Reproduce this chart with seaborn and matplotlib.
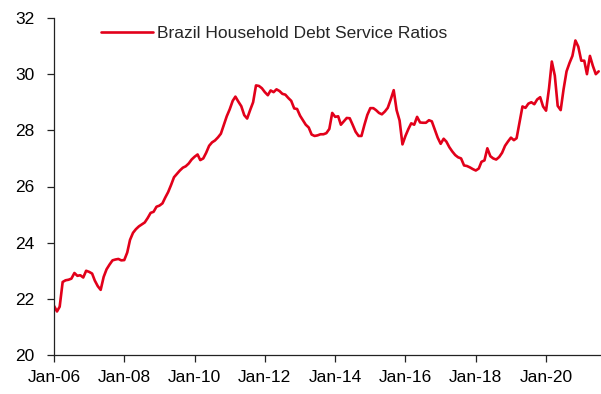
import numpy as np
import pandas as pd
import matplotlib
matplotlib.use("Agg")
import matplotlib.pyplot as plt
import matplotlib.dates as mdates
import seaborn as sns

# Monthly series, Jan 2006 onwards
start_month = "2006-01-01"
series_name = "Brazil Household Debt Service Ratios"
dsr_values = [
    21.75, 21.55, 21.72, 22.60, 22.66, 22.68, 22.72, 22.92, 22.82, 22.84, 22.76, 23.00,  # 2006
    22.96, 22.90, 22.65, 22.45, 22.32, 22.78, 23.05, 23.22, 23.37, 23.40, 23.42, 23.37,  # 2007
    23.38, 23.65, 24.10, 24.35, 24.48, 24.58, 24.65, 24.72, 24.88, 25.06, 25.10, 25.28,  # 2008
    25.32, 25.40, 25.60, 25.80, 26.05, 26.33, 26.45, 26.57, 26.67, 26.72, 26.82, 26.96,  # 2009
    27.06, 27.14, 26.94, 27.00, 27.20, 27.45, 27.57, 27.64, 27.75, 27.88, 28.20, 28.50,  # 2010
    28.75, 29.05, 29.20, 29.02, 28.86, 28.54, 28.42, 28.72, 29.00, 29.60, 29.58, 29.50,  # 2011
    29.36, 29.25, 29.42, 29.36, 29.46, 29.40, 29.30, 29.27, 29.15, 29.05, 28.78, 28.76,  # 2012
    28.52, 28.35, 28.20, 28.10, 27.85, 27.80, 27.82, 27.86, 27.86, 27.90, 28.05, 28.62,  # 2013
    28.48, 28.50, 28.20, 28.32, 28.44, 28.43, 28.20, 27.95, 27.80, 27.80, 28.20, 28.55,  # 2014
    28.79, 28.79, 28.72, 28.62, 28.57, 28.67, 28.80, 29.10, 29.43, 28.72, 28.35, 27.50,  # 2015
    27.80, 28.05, 28.25, 28.20, 28.48, 28.28, 28.27, 28.27, 28.36, 28.32, 28.02, 27.74,  # 2016
    27.52, 27.70, 27.60, 27.40, 27.25, 27.12, 27.04, 27.00, 26.75, 26.73, 26.68, 26.62,  # 2017
    26.57, 26.64, 26.88, 26.93, 27.36, 27.08, 27.00, 26.96, 27.05, 27.20, 27.45, 27.60,  # 2018
    27.74, 27.65, 27.72, 28.30, 28.85, 28.80, 28.95, 29.00, 28.93, 29.10, 29.18, 28.85,  # 2019
    28.70, 29.50, 30.45, 29.95, 28.87, 28.72, 29.46, 30.10, 30.40, 30.65, 31.20, 30.98,  # 2020
    30.48, 30.48, 30.00, 30.65, 30.30, 30.00, 30.10,                                     # 2021
]
y_ticks = [20, 22, 24, 26, 28, 30, 32]

dates = pd.date_range(start_month, periods=len(dsr_values), freq="MS")
df = pd.DataFrame({"date": dates, "value": dsr_values})

sns.set_theme(style="ticks")
plt.rcParams["font.family"] = ["Liberation Sans", "DejaVu Sans"]

fig = plt.figure(figsize=(6.01, 3.94), dpi=100)
ax = fig.add_axes([54 / 601, 1 - 355 / 394, 1 - 54 / 601, (355 - 18) / 394])

line_color = "#E2001A"
sns.lineplot(data=df, x="date", y="value", ax=ax, color=line_color,
             linewidth=1.9, label=series_name)

ax.set_xlim(pd.Timestamp("2006-01-01"), pd.Timestamp("2021-07-25"))
ax.set_ylim(20, 32)
ax.set_yticks(y_ticks)
ax.xaxis.set_major_locator(mdates.YearLocator(2, month=1, day=1))
ax.xaxis.set_major_formatter(mdates.DateFormatter("%b-%y"))
ax.set_xlabel("")
ax.set_ylabel("")

for side in ("top", "right"):
    ax.spines[side].set_visible(False)
for side in ("left", "bottom"):
    ax.spines[side].set_color("#222222")
    ax.spines[side].set_linewidth(0.9)

ax.tick_params(axis="both", colors="#222222", labelcolor="black",
               labelsize=12.5, length=5, width=0.9, direction="out")
ax.tick_params(axis="y", pad=9)
ax.tick_params(axis="x", pad=6)

leg = ax.legend(loc="center left", bbox_to_anchor=(101 / 601, 1 - 33 / 394),
                bbox_transform=fig.transFigure, frameon=False, fontsize=12.5,
                handlelength=3.0, handletextpad=0.25, borderpad=0,
                borderaxespad=0)

fig.savefig("out.png", dpi=100)
